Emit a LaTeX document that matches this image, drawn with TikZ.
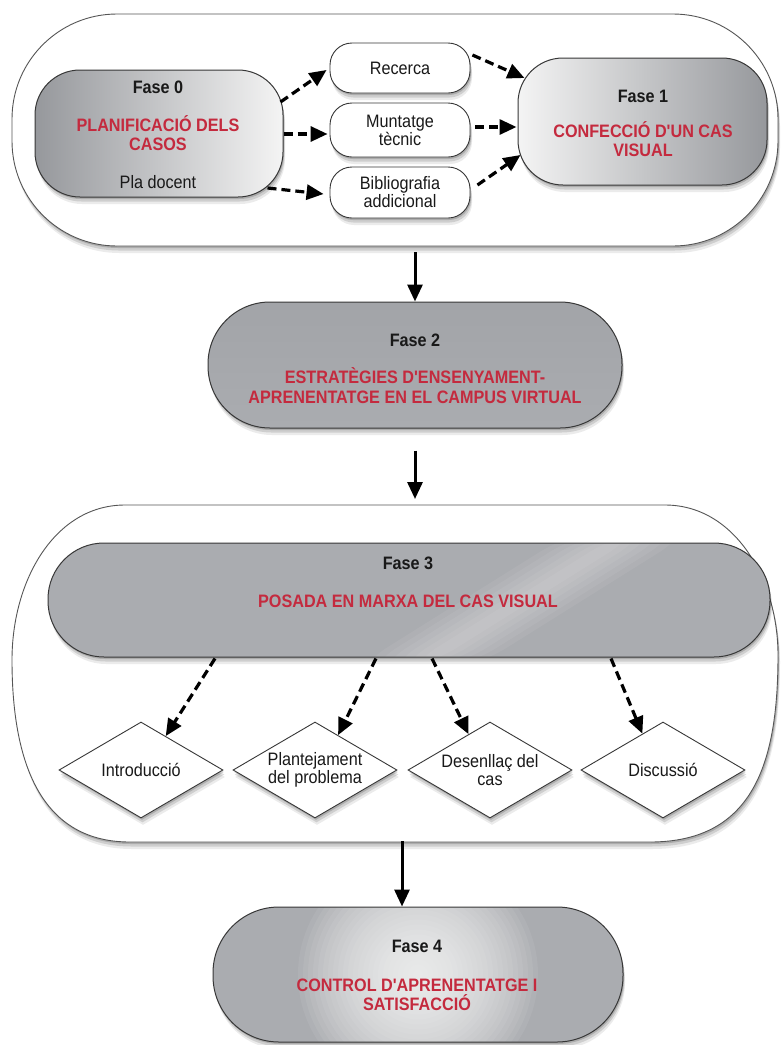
\documentclass[tikz,border=0pt]{standalone}
\usepackage{fontspec}
\setmainfont{Liberation Sans}[FakeStretch=0.9, Ligatures=TeXOff]
\usetikzlibrary{arrows.meta,shapes.geometric,shadows,calc}
\definecolor{redtxt}{RGB}{196,42,62}
\definecolor{boxgray}{RGB}{170,172,176}
\definecolor{darkgrayA}{RGB}{150,152,156}
\definecolor{lightgrayA}{RGB}{244,244,244}
\definecolor{edgecol}{RGB}{55,55,55}
\definecolor{txtcol}{RGB}{25,25,25}
\definecolor{gtwotop}{RGB}{162,164,168}
\definecolor{gtwomid}{RGB}{190,192,195}
\definecolor{gtwobot}{RGB}{170,172,176}
\newcommand\fasel[1]{\textbf{#1}}
\newcommand\redl[1]{\textcolor{redtxt}{\bfseries #1}}
\begin{document}
\begin{tikzpicture}[x=1pt,y=-1pt,
  font=\fontsize{18}{19.5}\selectfont,
  shd/.style={drop shadow={shadow xshift=1pt,shadow yshift=-2pt,opacity=.16,fill=black},
              drop shadow={shadow xshift=1.5pt,shadow yshift=-4.5pt,opacity=.12,fill=black},
              drop shadow={shadow xshift=2pt,shadow yshift=-7pt,opacity=.08,fill=black}},
  container/.style={draw=edgecol!85, line width=0.9pt, fill=white, rounded corners=105pt, shd},
  phase/.style={draw=edgecol, line width=1pt, inner sep=0pt, shd},
  smallbox/.style={draw=edgecol, line width=0.9pt, fill=white, rounded corners=22pt, minimum width=140pt,
                   align=center, inner sep=0pt, text=txtcol, font=\fontsize{18}{18}\selectfont, shd},
  dia/.style={diamond, aspect=1.71, draw=edgecol, line width=0.9pt, fill=white, minimum width=164pt, minimum height=96pt,
              inner sep=0pt, align=center, text=txtcol, font=\fontsize{18}{18}\selectfont, shd},
  dar/.style={line width=3.2pt, dash pattern=on 9pt off 5pt, -{Triangle[length=17pt,width=15pt]}},
  sar/.style={line width=3pt, -{Triangle[length=17pt,width=15pt]}},
  lab/.style={align=center, text=txtcol, inner sep=0pt},
]
\useasboundingbox (0,0) rectangle (782,1045);
\fill[white] (0,0) rectangle (782,1045);

% ---------- block 1 ----------
\node[container, minimum width=766pt, minimum height=232pt] (c1) at (395,130) {};

\node[phase, rounded corners=45pt, minimum width=248pt, minimum height=127pt,
      left color=darkgrayA, right color=lightgrayA] (f0) at (159,133.5) {};
\node[lab] (f0t) at (158,135) {\fasel{Fase 0}\\[18pt]\redl{PLANIFICACIÓ DELS}\\\redl{CASOS}\\[18pt]Pla docent};

\node[phase, rounded corners=45pt, minimum width=249pt, minimum height=127pt,
      left color=lightgrayA, right color=darkgrayA] (f1) at (642.5,121.5) {};
\node[lab] (f1t) at (643,123.5) {\fasel{Fase 1}\\[15pt]\redl{CONFECCIÓ D'UN CAS}\\\redl{VISUAL}};

\node[smallbox, minimum height=50pt] (rec) at (400,68) {Recerca};
\node[smallbox, minimum height=54pt] (mun) at (400,130) {Muntatge\\tècnic};
\node[smallbox, minimum height=51pt] (bib) at (400,192.5) {Bibliografia\\addicional};

\draw[dar] ($(f0.east)+(-3,-31.5)$) -- ($(rec.west)+(-3,2)$);
\draw[dar] ($(f0.east)+(0,0.5)$) -- ($(mun.west)+(-2,4)$);
\draw[dar] ($(f0.east)+(-16,54.5)$) -- ($(bib.west)+(-6,1.5)$);
\draw[dar] ($(rec.east)+(2,-13)$) -- ($(f1.west)+(7,-43.5)$);
\draw[dar] ($(mun.east)+(5,-3)$) -- ($(f1.west)+(-1,5.5)$);
\draw[dar] ($(bib.east)+(7,-7.5)$) -- ($(f1.west)+(3,33.5)$);

% ---------- Fase 2 ----------
\node[phase, rounded corners=62pt, minimum width=414pt, minimum height=126pt,
      top color=gtwotop, middle color=gtwomid, bottom color=gtwobot] (f2) at (415,365) {};
\node[lab] (f2t) at (415,368.5) {\fasel{Fase 2}\\[18pt]\redl{ESTRATÈGIES D'ENSENYAMENT-}\\\redl{APRENENTATGE EN EL CAMPUS VIRTUAL}};

\draw[sar] ($(c1.south)+(20,6)$) -- (f2.north);

% ---------- block 3 ----------
\draw[draw=edgecol!85, line width=0.9pt, fill=white, shd]
  (125,505) -- (665,505) .. controls (735,505) and (778,580) .. (778,655)
  .. controls (778,760) and (755,842) .. (650,842) -- (130,842)
  .. controls (45,842) and (12,770) .. (12,660)
  .. controls (12,580) and (55,505) .. (125,505) -- cycle;
\coordinate (c3t) at (415,499);
\coordinate (c3b) at (402,841);

\draw[sar] ($(f2.south)+(0,22)$) -- (c3t);

\node[phase, rounded corners=56pt, minimum width=722pt, minimum height=114pt, fill=boxgray,
      path picture={
        \foreach \w in {60,50,40,30,20,10}{
          \fill[white, opacity=0.06]
            ($(path picture bounding box.center)+(-9-\w,77)$) -- ($(path picture bounding box.center)+(-9+\w,77)$)
            -- ($(path picture bounding box.center)+(237+\w,-77)$) -- ($(path picture bounding box.center)+(237-\w,-77)$) -- cycle;
        }
      }] (f3) at (409,600) {};
\node[lab] (f3t) at (408,582.5) {\fasel{Fase 3}\\[19pt]\redl{POSADA EN MARXA DEL CAS VISUAL}};

\node[dia] (d1) at (141,770) {Introducció};
\node[dia] (d2) at (315,770) {Plantejament\\del problema};
\node[dia] (d3) at (490,770) {Desenllaç del\\cas};
\node[dia] (d4) at (663,770) {Discussió};

\draw[dar] ($(f3.south)+(-194,1)$) -- ($(d1.north)!0.3!(d1.east)$);
\draw[dar] ($(f3.south)+(-33,1)$) -- ($(d2.north)!0.28!(d2.east)$);
\draw[dar] ($(f3.south)+(23,1)$) -- ($(d3.north)!0.26!(d3.west)$);
\draw[dar] ($(f3.south)+(202,1)$) -- ($(d4.north)!0.25!(d4.west)$);

% ---------- Fase 4 ----------
\node[phase, rounded corners=66pt, minimum width=410pt, minimum height=135pt, fill=boxgray,
      path picture={\foreach \r in {5,10,...,120}{\fill[white, opacity=0.065] (path picture bounding box.center) circle (\r pt);}}]
      (f4) at (418,974.5) {};
\node[lab] (f4t) at (417,975.5) {\fasel{Fase 4}\\[19pt]\redl{CONTROL D'APRENENTATGE I}\\\redl{SATISFACCIÓ}};

\draw[sar] (c3b) -- ($(f4.north)+(-16,0)$);
\end{tikzpicture}
\end{document}
